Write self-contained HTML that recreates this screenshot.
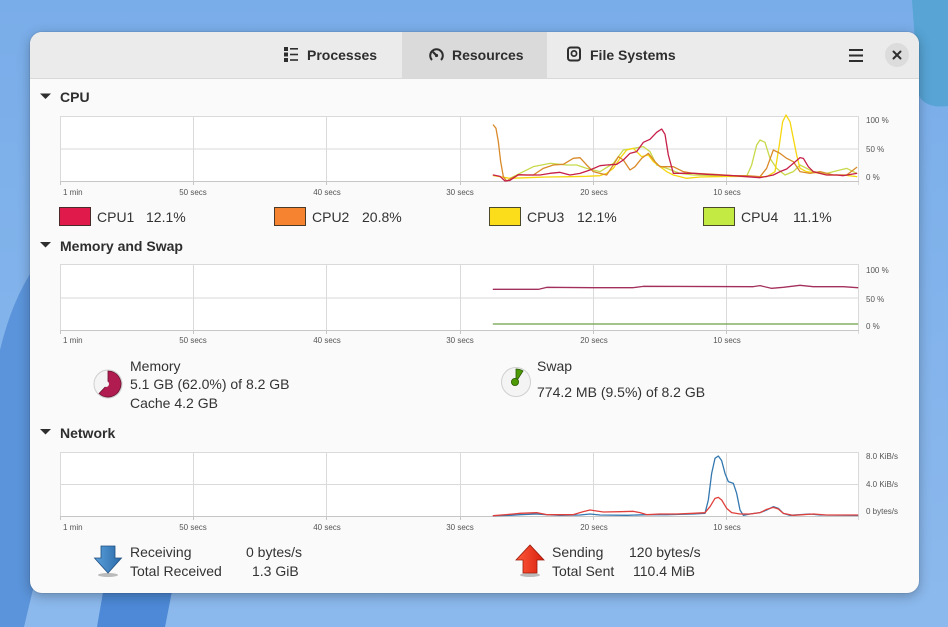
<!DOCTYPE html>
<html><head><meta charset="utf-8">
<style>
html,body{margin:0;padding:0;width:948px;height:627px;overflow:hidden;}
body{position:relative;font-family:"Liberation Sans",sans-serif;}
#bg{position:absolute;left:0;top:0;}
#win{position:absolute;left:30px;top:32px;width:889px;height:561px;border-radius:12px;overflow:hidden;background:#fafafa;box-shadow:0 3px 12px rgba(0,0,0,0.28),0 0 0 1px rgba(0,0,0,0.06);}
#win svg{position:absolute;left:0;top:0;}
text{font-family:"Liberation Sans",sans-serif;fill:#2e2e2e;}
.tab{font-size:14px;font-weight:bold;}
.h{font-size:14px;font-weight:bold;}
.t{font-size:8px;fill:#555;}
.r{font-size:8px;fill:#555;}
.l{font-size:14px;fill:#333;}
.grid{stroke:#dadada;stroke-width:1;fill:none;}
.ln{fill:none;stroke-width:1.3;stroke-linejoin:round;stroke-linecap:round;}
</style></head>
<body>
<svg id="bg" width="948" height="627" viewBox="0 0 948 627">
<defs>
<linearGradient id="bgg" x1="0" y1="0" x2="0" y2="1">
<stop offset="0" stop-color="#79ade9"/>
<stop offset="1" stop-color="#8cb9ed"/>
</linearGradient>
</defs>
<rect width="948" height="627" fill="url(#bgg)"/>
<path d="M0,350 Q12,300 34,268 L34,585 L24,627 L0,627 Z" fill="#5b94da"/>
<path d="M112,540 L182,540 L165,627 L97,627 Z" fill="#4d89d6"/>
<path d="M912,0 L948,0 L948,106 C934,108 922,104 919,95 Z" fill="#57a4d5"/>
</svg>

<div id="win">
<svg width="889" height="561" viewBox="30 32 889 561">
<!-- header -->
<rect x="30" y="32" width="889" height="46" fill="#ebebeb"/>
<rect x="402" y="32" width="145" height="46" fill="#dadada"/>
<line x1="30" y1="78.5" x2="919" y2="78.5" stroke="#d8d8d8"/>

<!-- processes icon -->
<g fill="#2e2e2e">
<rect x="284" y="47" width="4" height="4"/><rect x="284" y="52.5" width="4" height="4"/><rect x="284" y="58" width="4" height="4"/>
<rect x="290" y="48" width="8" height="1.6"/><rect x="290" y="53.7" width="8" height="1.6"/><rect x="290" y="59.2" width="8" height="1.6"/>
</g>
<text class="tab" x="307" y="60">Processes</text>
<!-- resources icon -->
<path d="M432,60 A6.3,6.3 0 1 1 441,60" fill="none" stroke="#2e2e2e" stroke-width="2"/>
<line x1="436.5" y1="55.5" x2="433.5" y2="52.5" stroke="#2e2e2e" stroke-width="2.2" stroke-linecap="round"/>
<circle cx="436.5" cy="55.5" r="1.6" fill="#2e2e2e"/>
<text class="tab" x="452" y="60">Resources</text>
<!-- file systems icon -->
<rect x="568" y="47.5" width="12" height="13" rx="2.5" fill="none" stroke="#2e2e2e" stroke-width="2"/>
<circle cx="574" cy="53.5" r="2.6" fill="none" stroke="#2e2e2e" stroke-width="1.7"/>
<text class="tab" x="590" y="60">File Systems</text>
<!-- hamburger -->
<g stroke="#2e2e2e" stroke-width="2"><line x1="849" y1="50" x2="863" y2="50"/><line x1="849" y1="55.5" x2="863" y2="55.5"/><line x1="849" y1="61" x2="863" y2="61"/></g>
<!-- close -->
<circle cx="897" cy="55" r="12" fill="#dcdcdc"/>
<g stroke="#2e2e2e" stroke-width="2" stroke-linecap="round"><line x1="893.5" y1="51.5" x2="900.5" y2="58.5"/><line x1="900.5" y1="51.5" x2="893.5" y2="58.5"/></g>

<!-- ========== CPU ========== -->
<path d="M40,93.5 L51,93.5 L45.5,99 Z" fill="#2e2e2e"/>
<text class="h" x="60" y="102">CPU</text>
<rect x="60.5" y="116.5" width="798" height="65" fill="#fff"/>
<g class="grid">
<line x1="60.5" y1="116.5" x2="858.5" y2="116.5"/>
<line x1="60.5" y1="149" x2="858.5" y2="149"/>
<line x1="60.5" y1="116" x2="60.5" y2="182"/>
<line x1="193.5" y1="116" x2="193.5" y2="182"/>
<line x1="326.5" y1="116" x2="326.5" y2="182"/>
<line x1="460.5" y1="116" x2="460.5" y2="182"/>
<line x1="593.5" y1="116" x2="593.5" y2="182"/>
<line x1="726.5" y1="116" x2="726.5" y2="182"/>
<line x1="858.5" y1="116" x2="858.5" y2="185"/>
</g>
<line x1="60" y1="181.5" x2="859" y2="181.5" stroke="#c6c6c6"/>
<g stroke="#c6c6c6"><line x1="60.5" y1="182" x2="60.5" y2="185"/><line x1="193.5" y1="182" x2="193.5" y2="185"/><line x1="326.5" y1="182" x2="326.5" y2="185"/><line x1="460.5" y1="182" x2="460.5" y2="185"/><line x1="593.5" y1="182" x2="593.5" y2="185"/><line x1="726.5" y1="182" x2="726.5" y2="185"/></g>
<text class="t" x="63" y="195">1 min</text>
<text class="t" x="193" y="195" text-anchor="middle">50 secs</text>
<text class="t" x="327" y="195" text-anchor="middle">40 secs</text>
<text class="t" x="460" y="195" text-anchor="middle">30 secs</text>
<text class="t" x="594" y="195" text-anchor="middle">20 secs</text>
<text class="t" x="727" y="195" text-anchor="middle">10 secs</text>
<text class="r" x="866" y="123">100 %</text>
<text class="r" x="866" y="152">50 %</text>
<text class="r" x="866" y="180">0 %</text>
<g transform="translate(460,105) scale(0.33333)">
<polyline class="ln" vector-effect="non-scaling-stroke" stroke="#c8d94a" points="150,220 220,185 270,175 320,180 350,180 380,190 420,200 460,175 490,135 520,130 550,125 570,140 590,180 620,190 660,205 700,210 780,212 860,214 875,180 890,120 900,105 915,112 930,160 950,190 975,210 1000,200 1020,180 1060,200 1100,205 1140,195 1160,190 1190,205"/>
<polyline class="ln" vector-effect="non-scaling-stroke" stroke="#f5d60f" points="100,212 150,220 200,218 260,216 330,215 380,214 420,212 440,205 460,190 480,160 500,135 520,130 545,155 565,150 580,170 600,185 620,200 640,210 680,220 720,216 760,215 820,214 880,215 920,215 945,200 958,120 968,50 978,30 990,50 1000,100 1010,150 1020,190 1040,200 1080,205 1100,210 1150,210 1190,215"/>
<polyline class="ln" vector-effect="non-scaling-stroke" stroke="#d98a2a" points="100,60 108,70 115,110 122,170 130,215 140,228 150,222 175,210 220,210 250,190 280,180 310,178 340,160 360,158 380,180 400,200 420,205 440,210 460,180 475,155 490,165 510,195 525,185 545,160 565,145 585,170 600,185 640,185 670,200 700,205 760,208 820,212 860,212 900,215 920,190 940,135 960,145 980,160 1000,170 1020,200 1050,205 1080,200 1120,210 1160,210 1190,187"/>
<polyline class="ln" vector-effect="non-scaling-stroke" stroke="#c61f48" points="100,210 120,214 135,228 150,226 175,209 200,210 240,210 270,205 300,202 330,210 360,205 390,195 420,182 440,180 470,178 490,165 510,145 530,140 550,112 570,103 590,82 605,72 615,88 625,150 640,205 660,205 700,205 740,208 780,210 820,212 860,215 900,218 920,214 940,210 960,200 980,192 1000,175 1020,158 1030,160 1045,185 1060,200 1080,205 1100,210 1130,210 1150,212 1190,205"/>
</g>
<!-- legend -->
<rect x="59.5" y="207.5" width="31" height="18" fill="#e01b4b" stroke="#4a2a2a"/>
<text class="l" x="97" y="222">CPU1</text><text class="l" x="146" y="222">12.1%</text>
<rect x="274.5" y="207.5" width="31" height="18" fill="#f6832f" stroke="#4a3a2a"/>
<text class="l" x="312" y="222">CPU2</text><text class="l" x="362" y="222">20.8%</text>
<rect x="489.5" y="207.5" width="31" height="18" fill="#fbdd1c" stroke="#4a4a2a"/>
<text class="l" x="527" y="222">CPU3</text><text class="l" x="577" y="222">12.1%</text>
<rect x="703.5" y="207.5" width="31" height="18" fill="#c2ea43" stroke="#4a4a2a"/>
<text class="l" x="741" y="222">CPU4</text><text class="l" x="793" y="222">11.1%</text>

<!-- ========== MEMORY ========== -->
<path d="M40,242 L51,242 L45.5,247.5 Z" fill="#2e2e2e"/>
<text class="h" x="60" y="251">Memory and Swap</text>
<rect x="60.5" y="264.5" width="798" height="66" fill="#fff"/>
<g class="grid">
<line x1="60.5" y1="264.5" x2="858.5" y2="264.5"/>
<line x1="60.5" y1="298" x2="858.5" y2="298"/>
<line x1="60.5" y1="264" x2="60.5" y2="331"/>
<line x1="193.5" y1="264" x2="193.5" y2="331"/>
<line x1="326.5" y1="264" x2="326.5" y2="331"/>
<line x1="460.5" y1="264" x2="460.5" y2="331"/>
<line x1="593.5" y1="264" x2="593.5" y2="331"/>
<line x1="726.5" y1="264" x2="726.5" y2="331"/>
<line x1="858.5" y1="264" x2="858.5" y2="334"/>
</g>
<line x1="60" y1="330.5" x2="859" y2="330.5" stroke="#c6c6c6"/>
<g stroke="#c6c6c6"><line x1="60.5" y1="331" x2="60.5" y2="334"/><line x1="193.5" y1="331" x2="193.5" y2="334"/><line x1="326.5" y1="331" x2="326.5" y2="334"/><line x1="460.5" y1="331" x2="460.5" y2="334"/><line x1="593.5" y1="331" x2="593.5" y2="334"/><line x1="726.5" y1="331" x2="726.5" y2="334"/></g>
<text class="t" x="63" y="343">1 min</text>
<text class="t" x="193" y="343" text-anchor="middle">50 secs</text>
<text class="t" x="327" y="343" text-anchor="middle">40 secs</text>
<text class="t" x="460" y="343" text-anchor="middle">30 secs</text>
<text class="t" x="594" y="343" text-anchor="middle">20 secs</text>
<text class="t" x="727" y="343" text-anchor="middle">10 secs</text>
<text class="r" x="866" y="273">100 %</text>
<text class="r" x="866" y="302">50 %</text>
<text class="r" x="866" y="329">0 %</text>
<g transform="translate(460,200) scale(0.33333)">
<polyline class="ln" vector-effect="non-scaling-stroke" stroke="#a3305c" points="100,268 235,268 260,262 400,263 520,263 550,259 880,260 900,257 935,265 970,262 1020,256 1060,260 1150,260 1193,263"/>
<polyline class="ln" vector-effect="non-scaling-stroke" stroke="#6ea046" points="100,372 1193,372"/>
</g>
<!-- memory pie -->
<circle cx="108" cy="384" r="14" fill="#f4f4f4" stroke="#d0d0d0" stroke-width="1"/>
<path d="M108,384 L108,371 A13,13 0 1 1 99.1,393.5 Z" fill="#b01c50" stroke="#6a1030" stroke-width="0.8"/>
<circle cx="106" cy="384" r="3" fill="#f4f4f4"/>
<text class="l" x="130" y="371">Memory</text>
<text class="l" x="130" y="389">5.1 GB (62.0%) of 8.2 GB</text>
<text class="l" x="130" y="408">Cache 4.2 GB</text>
<!-- swap pie -->
<circle cx="516" cy="382" r="14.5" fill="#f4f4f4" stroke="#d0d0d0" stroke-width="1"/>
<path d="M516,382 L516,369 A13,13 0 0 1 523,371 Z" fill="#4e9a06" stroke="#2a5a06" stroke-width="0.8"/>
<circle cx="515" cy="382" r="3.6" fill="#4e9a06" stroke="#2a5a06" stroke-width="0.8"/>
<text class="l" x="537" y="371">Swap</text>
<text class="l" x="537" y="397">774.2 MB (9.5%) of 8.2 GB</text>

<!-- ========== NETWORK ========== -->
<path d="M40,429 L51,429 L45.5,434.5 Z" fill="#2e2e2e"/>
<text class="h" x="60" y="438">Network</text>
<rect x="60.5" y="452.5" width="798" height="64" fill="#fff"/>
<g class="grid">
<line x1="60.5" y1="452.5" x2="858.5" y2="452.5"/>
<line x1="60.5" y1="484.5" x2="858.5" y2="484.5"/>
<line x1="60.5" y1="452" x2="60.5" y2="517"/>
<line x1="193.5" y1="452" x2="193.5" y2="517"/>
<line x1="326.5" y1="452" x2="326.5" y2="517"/>
<line x1="460.5" y1="452" x2="460.5" y2="517"/>
<line x1="593.5" y1="452" x2="593.5" y2="517"/>
<line x1="726.5" y1="452" x2="726.5" y2="517"/>
<line x1="858.5" y1="452" x2="858.5" y2="520"/>
</g>
<line x1="60" y1="516.5" x2="859" y2="516.5" stroke="#c6c6c6"/>
<g stroke="#c6c6c6"><line x1="60.5" y1="517" x2="60.5" y2="520"/><line x1="193.5" y1="517" x2="193.5" y2="520"/><line x1="326.5" y1="517" x2="326.5" y2="520"/><line x1="460.5" y1="517" x2="460.5" y2="520"/><line x1="593.5" y1="517" x2="593.5" y2="520"/><line x1="726.5" y1="517" x2="726.5" y2="520"/></g>
<text class="t" x="63" y="530">1 min</text>
<text class="t" x="193" y="530" text-anchor="middle">50 secs</text>
<text class="t" x="327" y="530" text-anchor="middle">40 secs</text>
<text class="t" x="460" y="530" text-anchor="middle">30 secs</text>
<text class="t" x="594" y="530" text-anchor="middle">20 secs</text>
<text class="t" x="727" y="530" text-anchor="middle">10 secs</text>
<text class="r" x="866" y="459">8.0 KiB/s</text>
<text class="r" x="866" y="487">4.0 KiB/s</text>
<text class="r" x="866" y="514">0 bytes/s</text>
<g transform="translate(460,440) scale(0.33333)">
<polyline class="ln" vector-effect="non-scaling-stroke" stroke="#3478b0" points="100,227 150,226 180,224 230,222 260,224 300,226 360,225 390,222 420,225 500,226 560,224 620,224 700,222 735,220 745,180 755,100 765,55 775,48 785,62 795,100 805,125 820,130 830,160 840,210 850,226 870,222 900,218 920,210 940,200 955,205 970,220 990,226 1050,222 1080,225 1193,226"/>
<polyline class="ln" vector-effect="non-scaling-stroke" stroke="#e0403c" points="100,227 160,222 180,220 230,218 260,224 340,224 370,215 390,210 410,213 430,216 480,215 520,214 540,218 560,224 600,222 650,222 700,220 735,218 750,200 765,175 775,172 785,180 800,205 815,218 840,222 870,222 900,218 920,208 940,202 955,207 970,220 1000,226 1060,222 1100,225 1193,225"/>
</g>
<!-- receive arrow -->
<defs>
<linearGradient id="blu" x1="0" y1="0" x2="1" y2="0"><stop offset="0" stop-color="#5aa0dc"/><stop offset="1" stop-color="#2a6aa8"/></linearGradient>
<linearGradient id="red" x1="0" y1="0" x2="1" y2="0"><stop offset="0" stop-color="#ff5a3a"/><stop offset="1" stop-color="#d8200e"/></linearGradient>
</defs>
<ellipse cx="108" cy="575" rx="10" ry="2" fill="#bbb"/>
<path d="M101,546 L115,546 L115,558 L121.5,558 L108,573 L94.5,558 L101,558 Z" fill="url(#blu)" stroke="#1f4f80" stroke-width="0.8"/>
<text class="l" x="130" y="557">Receiving</text>
<text class="l" x="130" y="576">Total Received</text>
<text class="l" x="246" y="557">0 bytes/s</text>
<text class="l" x="252" y="576">1.3 GiB</text>
<!-- send arrow -->
<ellipse cx="530" cy="575" rx="10" ry="2" fill="#bbb"/>
<path d="M523,573 L537,573 L537,560 L544,560 L530,545 L516,560 L523,560 Z" fill="url(#red)" stroke="#9a1a0a" stroke-width="0.8"/>
<text class="l" x="552" y="557">Sending</text>
<text class="l" x="552" y="576">Total Sent</text>
<text class="l" x="629" y="557">120 bytes/s</text>
<text class="l" x="633" y="576">110.4 MiB</text>
</svg>
</div>
</body></html>
